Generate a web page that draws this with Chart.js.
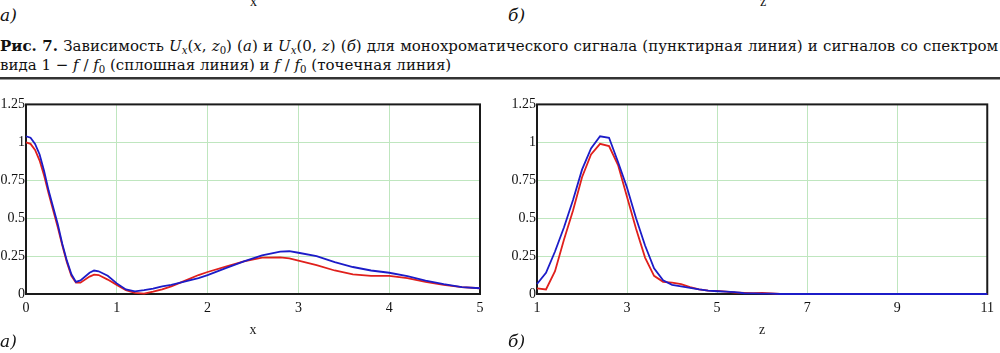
<!DOCTYPE html>
<html>
<head>
<meta charset="utf-8">
<script src="https://cdn.jsdelivr.net/npm/chart.js@4/dist/chart.umd.min.js"></script>
<style>
  body { margin: 0; width: 1000px; height: 353px; overflow: hidden; background: #fff; position: relative; font-family: "DejaVu Serif", serif; color: #111; }
  .abs { position: absolute; }
  .small { font-family: "Liberation Serif", serif; font-size: 14px; }
  .lbl { font-family: "DejaVu Serif", serif; font-style: italic; font-size: 17px; }
  #cap1, #cap2 { position: absolute; left: 0; font-size: 13px; white-space: nowrap; line-height: 16px; }
  #cap1 { top: 38px; }
  #cap2 { top: 57px; }
  sub { font-size: 0.68em; vertical-align: -3px; line-height: 0; }
  #rule { position: absolute; left: 0; top: 77px; width: 1000px; height: 0; border-top: 2px solid #333; border-bottom: 1px solid #999; }
  canvas { position: absolute; }
</style>
</head>
<body>
<div class="abs small" style="left:250px; top:-6px;">x</div>
<div class="abs small" style="left:760px; top:-6px;">z</div>
<div class="abs lbl" style="left:0px; top:5px;">а)</div>
<div class="abs lbl" style="left:508px; top:5px;">б)</div>
<div id="cap1"><b>Рис. 7.</b> Зависимость <i>U</i><sub><i>x</i></sub>(<i>x</i>, <i>z</i><sub>0</sub>) (<i>а</i>) и <i>U</i><sub><i>x</i></sub>(0, <i>z</i>) (<i>б</i>) для монохроматического сигнала (пунктирная линия) и сигналов со спектром</div>
<div id="cap2">вида 1 − <i>f</i> / <i>f</i><sub>0</sub> (сплошная линия) и <i>f</i> / <i>f</i><sub>0</sub> (точечная линия)</div>
<div id="rule"></div>

<canvas id="left" style="left:0; top:95px;" width="500" height="258"></canvas>
<canvas id="right" style="left:500px; top:95px;" width="500" height="258"></canvas>
<div class="abs lbl" style="left:0px; top:331px;">а)</div>
<div class="abs lbl" style="left:508px; top:331px;">б)</div>

<script>
// fit the first caption line to the page width, second line gets same font size
const cap1 = document.getElementById("cap1");
const cap2 = document.getElementById("cap2");
let fs = 13 * 996 / cap1.offsetWidth;
fs = Math.floor(fs * 10) / 10;
cap1.style.fontSize = fs + "px";
cap2.style.fontSize = fs + "px";
const spaces = (cap1.textContent.match(/ /g) || []).length;
cap1.style.wordSpacing = ((998 - cap1.offsetWidth) / spaces) + "px";

const xValues = [0, 0.05, 0.1, 0.15, 0.2, 0.25, 0.3, 0.35, 0.4, 0.45, 0.5, 0.55, 0.6, 0.7, 0.75, 0.8, 0.9, 1.0, 1.1, 1.2, 1.3, 1.4, 1.5, 1.6, 1.7, 1.8, 1.9, 2.0, 2.2, 2.4, 2.6, 2.8, 2.9, 3.0, 3.2, 3.4, 3.6, 3.8, 4.0, 4.2, 4.4, 4.6, 4.8, 5.0];
const blueLeft = [1.04, 1.03, 0.99, 0.92, 0.81, 0.68, 0.57, 0.46, 0.33, 0.22, 0.13, 0.08, 0.09, 0.14, 0.155, 0.15, 0.12, 0.07, 0.03, 0.018, 0.025, 0.035, 0.05, 0.06, 0.075, 0.09, 0.105, 0.125, 0.17, 0.215, 0.255, 0.28, 0.282, 0.272, 0.25, 0.21, 0.178, 0.155, 0.14, 0.118, 0.088, 0.065, 0.045, 0.038];
const redLeft = [1.0, 0.99, 0.95, 0.88, 0.78, 0.66, 0.55, 0.44, 0.32, 0.21, 0.12, 0.075, 0.075, 0.115, 0.128, 0.125, 0.095, 0.06, 0.025, 0.008, 0.003, 0.015, 0.03, 0.05, 0.075, 0.1, 0.125, 0.145, 0.18, 0.215, 0.24, 0.242, 0.235, 0.22, 0.19, 0.155, 0.13, 0.12, 0.12, 0.105, 0.08, 0.06, 0.045, 0.038];

const zValues = [1.0, 1.2, 1.4, 1.6, 1.8, 2.0, 2.2, 2.4, 2.6, 2.8, 3.0, 3.2, 3.4, 3.6, 3.8, 4.0, 4.2, 4.4, 4.6, 4.8, 5.0, 5.2, 5.4, 5.6, 5.8, 6.0, 6.2, 6.4, 11];
const blueRight = [0.066, 0.14, 0.28, 0.44, 0.62, 0.82, 0.96, 1.04, 1.03, 0.87, 0.70, 0.50, 0.32, 0.17, 0.09, 0.06, 0.05, 0.04, 0.03, 0.022, 0.018, 0.015, 0.012, 0.005, 0.004, 0.003, 0.002, 0, 0];
const redRight = [0.037, 0.03, 0.15, 0.36, 0.55, 0.77, 0.92, 0.99, 0.975, 0.85, 0.64, 0.43, 0.24, 0.12, 0.08, 0.075, 0.065, 0.045, 0.03, 0.022, 0.02, 0.015, 0.01, 0.008, 0.006, 0.008, 0.004, 0, 0];

const yTicks = [0, 0.25, 0.5, 0.75, 1, 1.25];

const frame = {
  id: "frame",
  beforeDatasetsDraw(chart) {
    const { ctx, chartArea: a } = chart;
    ctx.save();
    ctx.strokeStyle = "#1a1a1a";
    ctx.lineWidth = 2;
    ctx.strokeRect(a.left, a.top, a.right - a.left, a.bottom - a.top);
    ctx.restore();
  }
};

function makeChart(id, xs, blue, red, xOpts, yWidth, rightPad, title) {
  const ctx = document.getElementById(id).getContext("2d");
  return new Chart(ctx, {
    type: "line",
    data: {
      datasets: [
        { data: xs.map((x, i) => ({ x: x, y: blue[i] })), borderColor: "#1c1cc8", borderWidth: 1.8, pointRadius: 0, tension: 0, clip: 3 },
        { data: xs.map((x, i) => ({ x: x, y: red[i] })), borderColor: "#e0201c", borderWidth: 1.8, pointRadius: 0, tension: 0, clip: 3 }
      ]
    },
    options: {
      responsive: false,
      animation: false,
      layout: { padding: { top: 7, right: rightPad, left: 0, bottom: 0 } },
      plugins: { legend: { display: false }, tooltip: { enabled: false } },
      scales: {
        x: Object.assign({
          type: "linear",
          grid: { color: "#bfe6bf", drawTicks: false },
          border: { display: false },
          title: { display: true, text: title, color: "#222", font: { family: "Liberation Serif", size: 14 }, padding: { top: 0, bottom: 14 } },
          afterFit(s) { s.height = 59; }
        }, xOpts),
        y: {
          min: 0, max: 1.25,
          afterBuildTicks(s) { s.ticks = yTicks.map(v => ({ value: v })); },
          grid: { color: "#bfe6bf", drawTicks: false },
          border: { display: false },
          ticks: { color: "#111", padding: 1, font: { family: "Liberation Serif", size: 14 }, callback: v => String(v) },
          afterFit(s) { s.width = yWidth; }
        }
      }
    },
    plugins: [frame]
  });
}

const xTickFont = { family: "Liberation Serif", size: 14 };
makeChart("left", xValues, blueLeft, redLeft, { min: 0, max: 5, ticks: { stepSize: 1, color: "#111", padding: 6, font: xTickFont } }, 26, 20, "x");
makeChart("right", zValues, blueRight, redRight, { min: 1, max: 11, ticks: { stepSize: 2, color: "#111", padding: 6, font: xTickFont } }, 37, 11, "z");
</script>
</body>
</html>
